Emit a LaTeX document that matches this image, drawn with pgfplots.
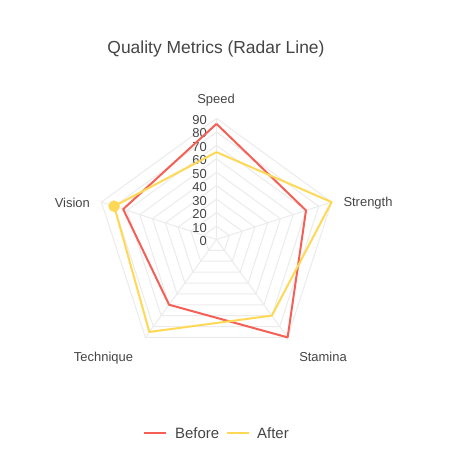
\documentclass[border=0pt]{standalone}
\usepackage{pgfplots}
\pgfplotsset{compat=1.18}
\usepackage{pgfplotstable}
\usepackage{fontspec}
\setmainfont{Liberation Sans}
\definecolor{txt}{HTML}{444444}
\definecolor{redc}{RGB}{245,95,85}
\definecolor{yelc}{RGB}{255,217,85}
\definecolor{gridc}{HTML}{EBEBEB}

\pgfplotstableread{
a before after
90 86 65
18 70 90
-54 90 70
-126 60 85
162 73 80
90 86 65
}\radar

\begin{document}
\begin{tikzpicture}
\begin{axis}[x=1bp,y=1bp,
  xmin=-216.5,xmax=239.5,ymin=-233.5,ymax=239.5,
  hide axis, clip=false]
% grid pentagons
\pgfplotsinvokeforeach{1,2,3,4,5,6,7,8,9}{
  \addplot[gridc, line width=1bp, no marks, forget plot]
    table[x expr={#1*13.444*cos(\thisrow{a})}, y expr={#1*13.444*sin(\thisrow{a})}] {\radar};
}
% spokes
\pgfplotsinvokeforeach{90,18,-54,-126,162}{
  \draw[gridc, line width=1bp] (axis cs:0,0) -- (axis cs:{121*cos(#1)},{121*sin(#1)});
}
% radial tick labels
\pgfplotsinvokeforeach{0,10,20,30,40,50,60,70,80,90}{
  \node[anchor=east, text=txt, font=\fontsize{13}{15}\selectfont, inner sep=0pt] at (axis cs:-9.5,{#1*1.3444-1.5}) {#1};
}
% data
\addplot[redc, line width=2bp, no marks, line join=round]
  table[x expr={1.3444*\thisrow{before}*cos(\thisrow{a})}, y expr={1.3444*\thisrow{before}*sin(\thisrow{a})}] {\radar};
\addplot[yelc, line width=2bp, no marks, line join=round]
  table[x expr={1.3444*\thisrow{after}*cos(\thisrow{a})}, y expr={1.3444*\thisrow{after}*sin(\thisrow{a})}] {\radar};
\addplot[only marks, mark=*, mark size=5.5bp, color=yelc, fill=yelc]
  coordinates {(-102.4,33.3)};
% category labels
\node[text=txt, font=\fontsize{13}{15}\selectfont, inner sep=0pt] at (axis cs:-0.5,139.5) {Speed};
\node[anchor=west, text=txt, font=\fontsize{13}{15}\selectfont, inner sep=0pt] at (axis cs:126.8,36.8) {Strength};
\node[anchor=east, text=txt, font=\fontsize{13}{15}\selectfont, inner sep=0pt] at (axis cs:-126.5,36.2) {Vision};
\node[text=txt, font=\fontsize{13}{15}\selectfont, inner sep=0pt, text height=9.4bp, text depth=0pt] at (axis cs:-113,-117.5) {Technique};
\node[text=txt, font=\fontsize{13}{15}\selectfont, inner sep=0pt] at (axis cs:106.5,-117.5) {Stamina};
% title
\node[text=txt, font=\fontsize{17.5}{20}\selectfont, inner sep=0pt, text height=12.6bp, text depth=0pt] at (axis cs:-0.5,192.3) {Quality Metrics (Radar Line)};
% legend
\draw[redc, line width=2bp] (axis cs:-72.5,-193.5) -- (axis cs:-50.5,-193.5);
\node[anchor=west, text=txt, font=\fontsize{15}{18}\selectfont, inner sep=0pt] at (axis cs:-41.5,-193.5) {Before};
\draw[yelc, line width=2bp] (axis cs:10.5,-193.5) -- (axis cs:32.5,-193.5);
\node[anchor=west, text=txt, font=\fontsize{15}{18}\selectfont, inner sep=0pt] at (axis cs:40.5,-193.5) {After};
\coordinate (BL) at (axis cs:-216.5,-233.5);
\coordinate (TR) at (axis cs:239.5,239.5);
\end{axis}
\pgfresetboundingbox
\path[use as bounding box] (BL) rectangle (TR);
\end{tikzpicture}
\end{document}
